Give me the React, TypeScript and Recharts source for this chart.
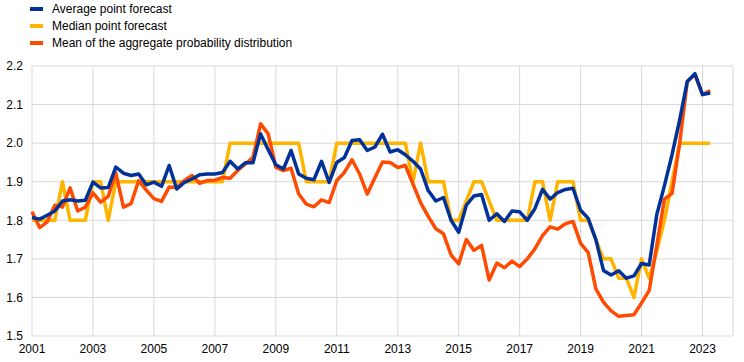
import { LineChart, Line, XAxis, YAxis, CartesianGrid, Legend } from 'recharts';

// quarterly survey rounds, first one is 2001 Q1
const START_YEAR = 2001;

const yearTicks = [2001, 2003, 2005, 2007, 2009, 2011, 2013, 2015, 2017, 2019, 2021, 2023];
const valueTicks = [1.5, 1.6, 1.7, 1.8, 1.9, 2.0, 2.1, 2.2];

const averageForecast = [
  1.807, 1.803, 1.813, 1.824, 1.85, 1.853, 1.85, 1.852, 1.899, 1.884,
  1.885, 1.938, 1.922, 1.916, 1.92, 1.892, 1.899, 1.888, 1.942, 1.881,
  1.898, 1.907, 1.918, 1.92, 1.92, 1.924, 1.953, 1.933, 1.949, 1.949,
  2.024, 1.983, 1.944, 1.933, 1.981, 1.92, 1.909, 1.905, 1.953, 1.898,
  1.95, 1.963, 2.007, 2.009, 1.981, 1.99, 2.023, 1.977, 1.983, 1.97,
  1.953, 1.933, 1.877, 1.85, 1.859, 1.8, 1.769, 1.839, 1.863, 1.867,
  1.8, 1.817, 1.797, 1.824, 1.822, 1.8, 1.83, 1.88, 1.855, 1.872,
  1.88, 1.883, 1.826, 1.805, 1.75, 1.67, 1.658, 1.669, 1.65, 1.656,
  1.688, 1.684, 1.815, 1.89, 1.97, 2.06, 2.16, 2.18, 2.126, 2.13,
];

const medianForecast = [
  1.8, 1.8, 1.8, 1.8, 1.9, 1.8, 1.8, 1.8, 1.9, 1.9,
  1.8, 1.9, 1.9, 1.9, 1.9, 1.9, 1.9, 1.9, 1.9, 1.9,
  1.9, 1.9, 1.9, 1.9, 1.9, 1.9, 2.0, 2.0, 2.0, 2.0,
  2.0, 2.0, 2.0, 2.0, 2.0, 2.0, 1.9, 1.9, 1.9, 1.9,
  2.0, 2.0, 2.0, 2.0, 2.0, 2.0, 2.0, 2.0, 2.0, 2.0,
  1.9, 2.0, 1.9, 1.9, 1.9, 1.8, 1.8, 1.85, 1.9, 1.9,
  1.85, 1.8, 1.8, 1.8, 1.8, 1.8, 1.9, 1.9, 1.8, 1.9,
  1.9, 1.9, 1.8, 1.8, 1.75, 1.7, 1.7, 1.65, 1.65, 1.6,
  1.7, 1.65, 1.72, 1.8, 1.9, 2.0, 2.0, 2.0, 2.0, 2.0,
];

const meanDistribution = [
  1.822, 1.781, 1.796, 1.839, 1.834, 1.884, 1.824, 1.834, 1.871, 1.847,
  1.862, 1.923, 1.834, 1.843, 1.903, 1.878, 1.856, 1.849, 1.886, 1.885,
  1.903, 1.916, 1.896, 1.903, 1.904, 1.911, 1.909, 1.929, 1.946, 1.963,
  2.05, 2.024, 1.937, 1.929, 1.935, 1.868, 1.842, 1.835, 1.853, 1.846,
  1.903, 1.924, 1.957, 1.92, 1.868, 1.91, 1.951, 1.95, 1.937, 1.942,
  1.894, 1.846, 1.81, 1.778, 1.765, 1.71, 1.687, 1.75, 1.722, 1.735,
  1.645, 1.689, 1.677, 1.694, 1.68, 1.7, 1.726, 1.76, 1.783, 1.777,
  1.791, 1.797, 1.74, 1.716, 1.622, 1.588, 1.565, 1.551, 1.553, 1.555,
  1.586, 1.618, 1.735, 1.855, 1.87, 2.0, 2.16, 2.178, 2.126, 2.136,
];

const BLUE = '#003299';
const YELLOW = '#ffb400';
const ORANGE = '#ff4b00';
const FONT = 'Arial, "Liberation Sans", sans-serif';

// legend order
const series = [
  { key: 'avg', name: 'Average point forecast', color: BLUE },
  { key: 'med', name: 'Median point forecast', color: YELLOW },
  { key: 'mean', name: 'Mean of the aggregate probability distribution', color: ORANGE },
];
// drawing order: median at the bottom, average on top
const drawOrder = [series[1], series[2], series[0]];

const data = averageForecast.map((v, i) => ({
  t: START_YEAR + i / 4,
  avg: v,
  med: medianForecast[i],
  mean: meanDistribution[i],
}));

function LegendBox() {
  return (
    <div style={{ fontFamily: FONT, fontSize: 12, color: '#000' }}>
      {series.map(s => (
        <div key={s.key} style={{ display: 'flex', alignItems: 'center', height: 17 }}>
          <span style={{ display: 'inline-block', width: 13, height: 4, background: s.color, marginRight: 9 }} />
          <span>{s.name}</span>
        </div>
      ))}
    </div>
  );
}

export default function App() {
  return (
    <div style={{ position: 'absolute', left: 0, top: 0, width: 744, height: 362, background: '#fff' }}>
      <LineChart width={744} height={362} data={data} margin={{ top: 66, right: 11, bottom: 0, left: 0 }}>
        <CartesianGrid stroke="#d9d9d9" strokeWidth={1} />
        <XAxis
          dataKey="t"
          type="number"
          domain={[2001, 2024]}
          ticks={yearTicks}
          interval={0}
          height={26}
          axisLine={false}
          tickLine={false}
          tick={{ fill: '#000', fontSize: 12, fontFamily: FONT }}
        />
        <YAxis
          domain={[1.5, 2.2]}
          ticks={valueTicks}
          width={32}
          axisLine={false}
          tickLine={false}
          tickMargin={3}
          tick={{ fill: '#000', fontSize: 12, fontFamily: FONT }}
          tickFormatter={(v: number) => v.toFixed(1)}
        />
        <Legend
          layout="horizontal"
          align="center"
          verticalAlign="middle"
          wrapperStyle={{ top: 0, left: 30, width: 400 }}
          content={() => <LegendBox />}
        />
        {drawOrder.map(s => (
          <Line
            key={s.key}
            dataKey={s.key}
            name={s.name}
            type="linear"
            stroke={s.color}
            strokeWidth={3.5}
            strokeLinejoin="round"
            dot={false}
            isAnimationActive={false}
          />
        ))}
      </LineChart>
    </div>
  );
}
